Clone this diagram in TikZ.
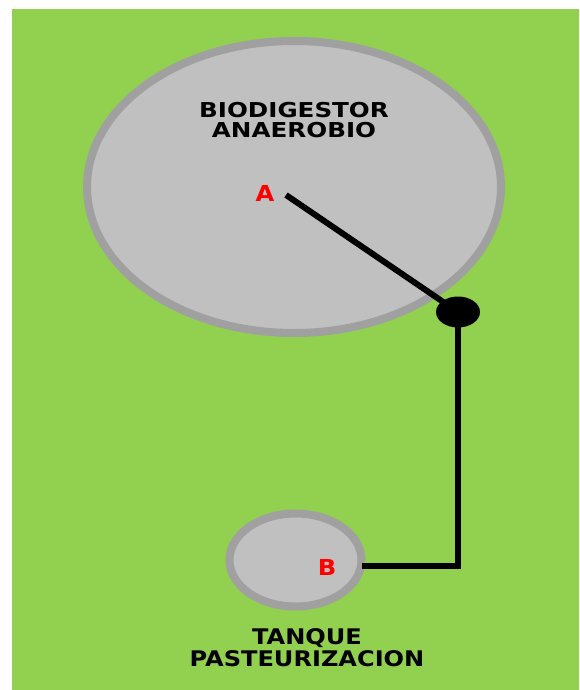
\documentclass[tikz,border=0pt]{standalone}
\usepackage{fontspec}
\setmainfont{DejaVu Sans}
\newfontfamily\biofont[FakeStretch=1.2]{DejaVu Sans}
\newfontfamily\tankfont[FakeStretch=1.12]{DejaVu Sans}
\newfontfamily\tagfont[FakeStretch=1.1]{DejaVu Sans}
\definecolor{bggreen}{HTML}{92D050}
\definecolor{tankfill}{HTML}{C0C0C0}
\definecolor{tankedge}{HTML}{A0A0A0}
\tikzset{
  tankshape/.style={ellipse, draw=tankedge, fill=tankfill, line width=8pt, inner sep=0pt},
  pipe/.style={line width=6pt, black},
  title/.style={align=center, text=black, inner sep=0pt},
  tag/.style={font=\tagfont\bfseries\fontsize{22}{22}\selectfont, text=red, inner sep=0pt}
}
\usetikzlibrary{shapes.geometric}
\begin{document}
\begin{tikzpicture}[x=1pt,y=-1pt]
\useasboundingbox (0,0) rectangle (579,690);
\fill[bggreen] (12,9) rectangle (579,690);
\node[tankshape, minimum width=414pt, minimum height=292pt] (bio) at (294,187) {};
\node[tankshape, minimum width=132pt, minimum height=93pt] (tank) at (295.5,560) {};
\node[title, font=\biofont\bfseries\fontsize{20.5}{20.5}\selectfont] (biot) at (294,120) {BIODIGESTOR\\ANAEROBIO};
\node[title, font=\tankfont\bfseries\fontsize{21.5}{22}\selectfont] (tankt) at (307,648) {TANQUE\\PASTEURIZACION};
\node[tag] (A) at (265,193) {A};
\node[tag] (B) at (327,567) {B};
\node[ellipse, fill=black, minimum width=44pt, minimum height=31pt, inner sep=0pt] (dot) at (458,312) {};
\coordinate (a1) at (286,195);
\coordinate (b1) at (362,566);
\coordinate (corner) at (458,566);
\draw[pipe] (a1) -- (dot.center);
\draw[pipe] (dot.center) -- (corner) -- (b1);
\end{tikzpicture}
\end{document}
